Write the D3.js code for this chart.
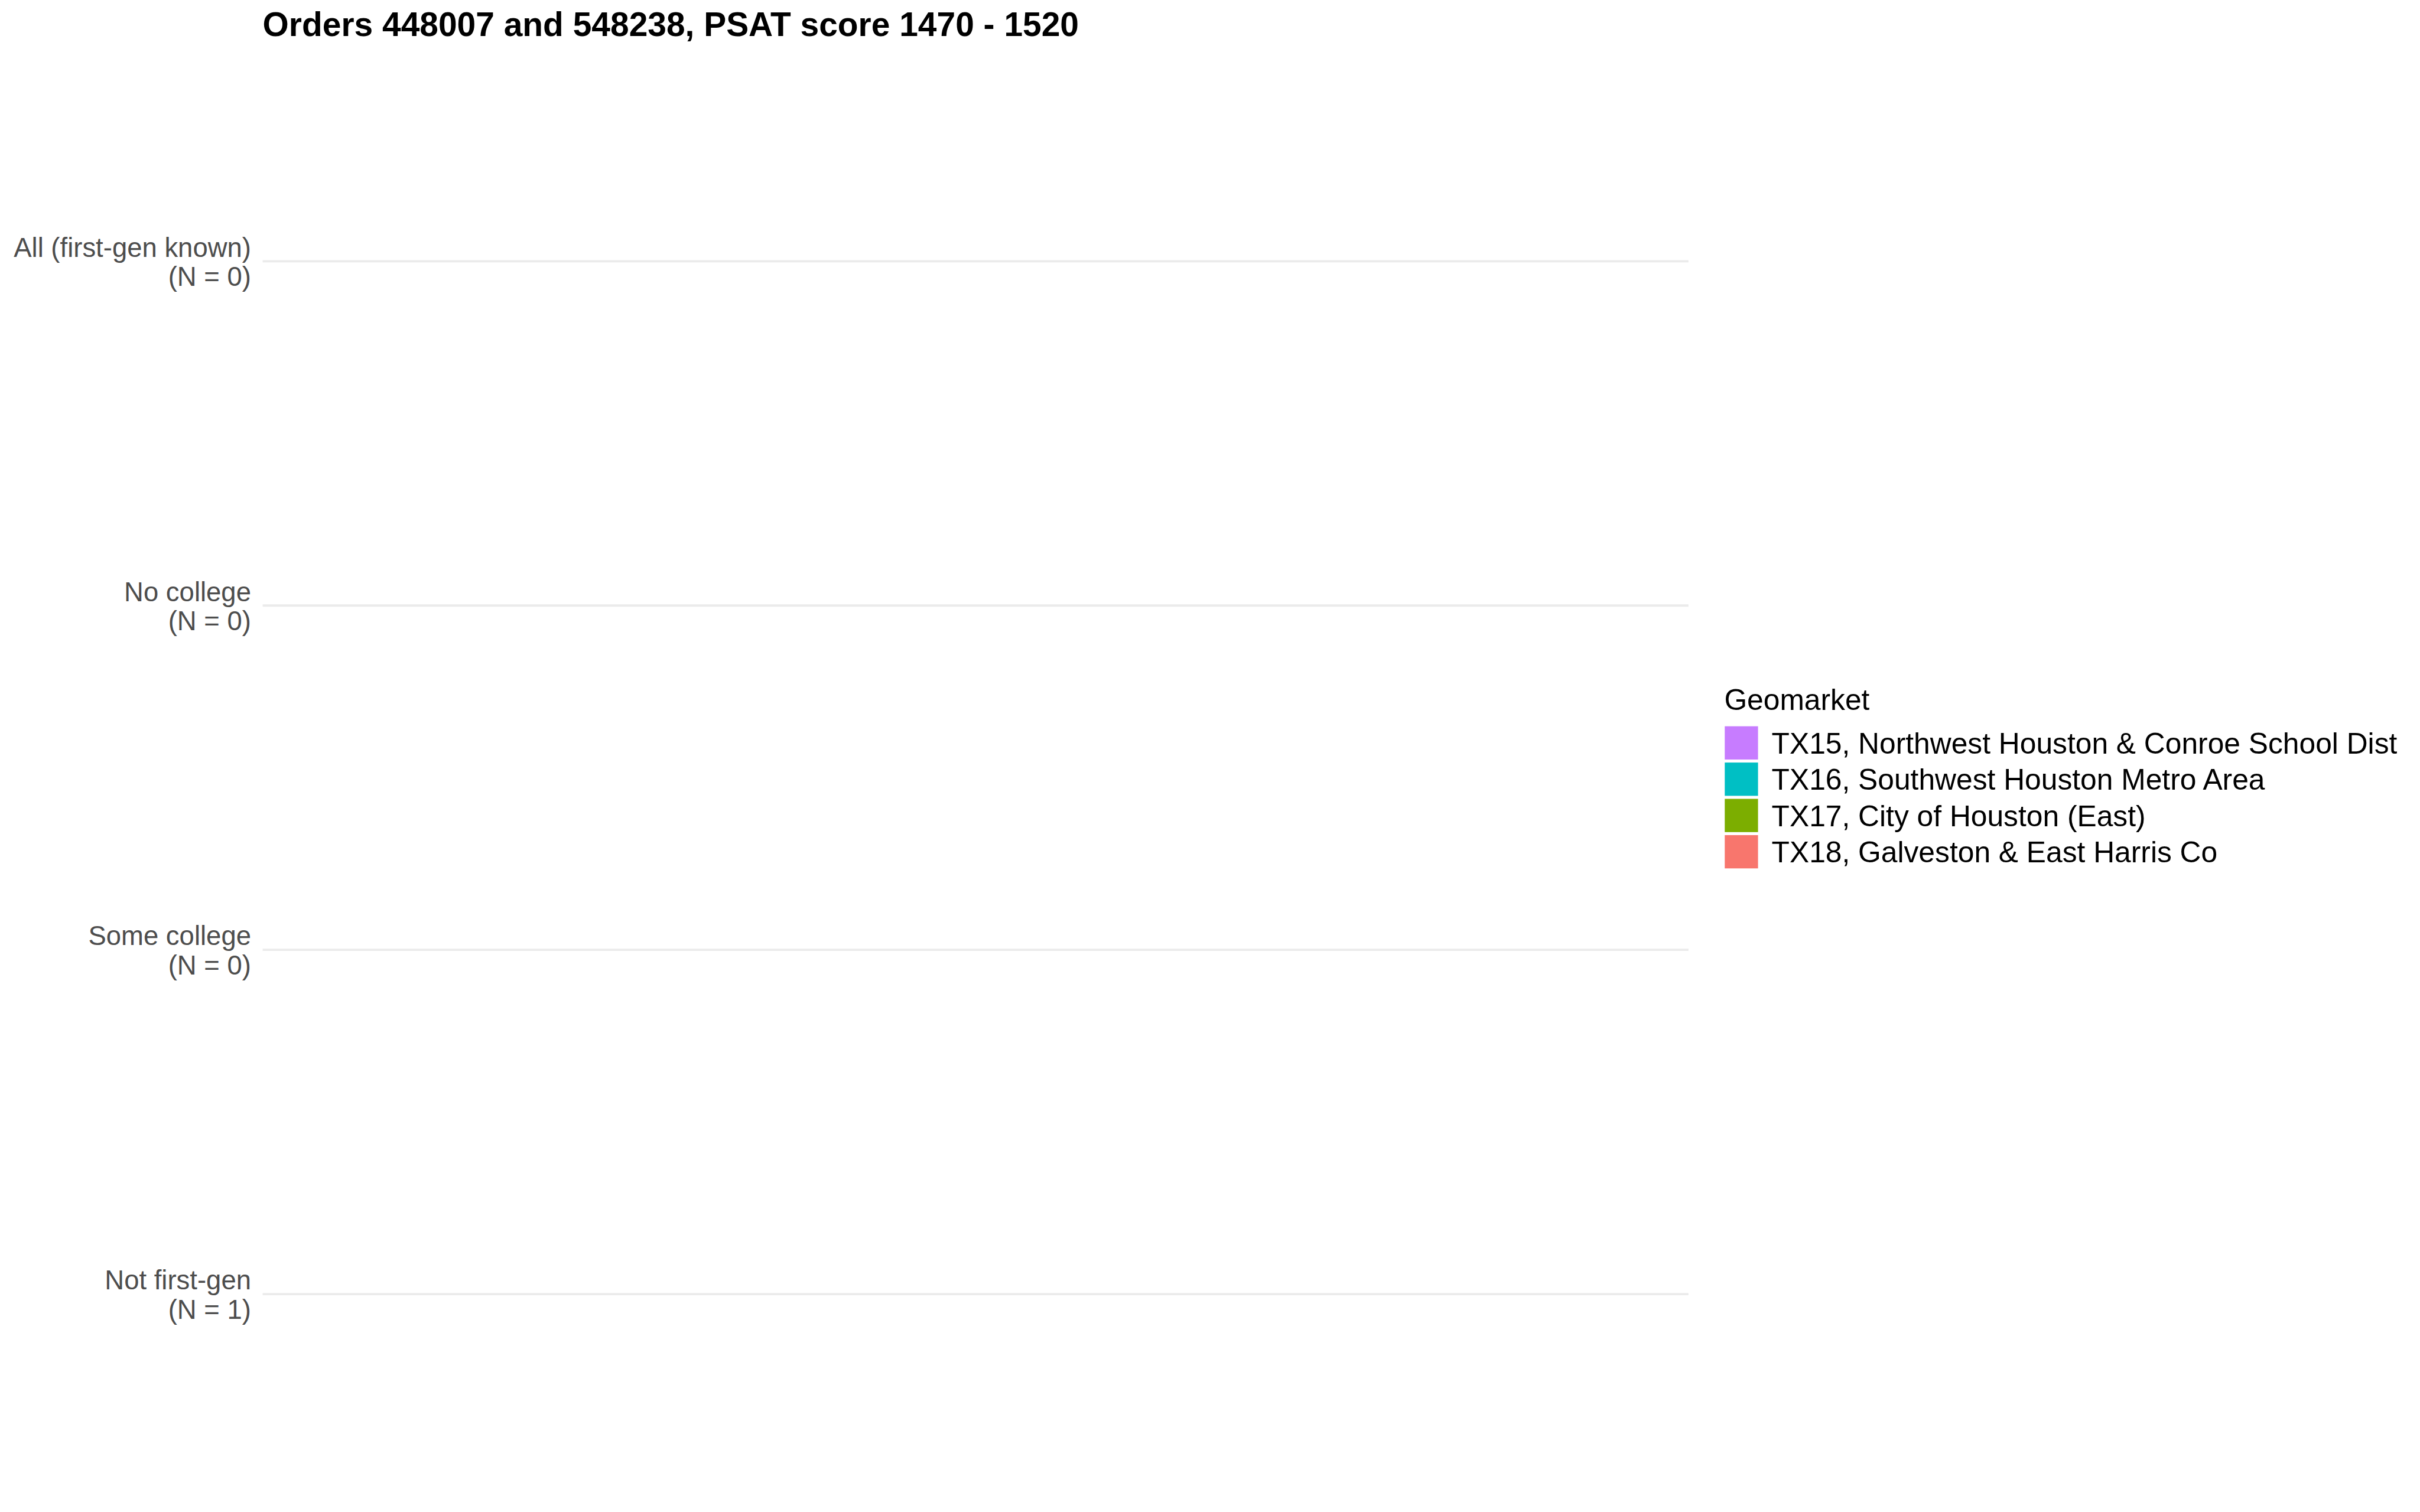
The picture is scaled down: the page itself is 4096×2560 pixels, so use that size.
<!DOCTYPE html>
<html>
<head>
<meta charset="utf-8">
<script src="https://cdn.jsdelivr.net/npm/d3@7"></script>
<style>
  html, body { margin: 0; padding: 0; background: #ffffff; }
  svg { display: block; }
  text { font-family: "Liberation Sans", Arial, Helvetica, sans-serif; }
</style>
</head>
<body>
<script>
// ---- data ----
const chartTitle = "Orders 448007 and 548238, PSAT score 1470 - 1520";
const categories = ["All (first-gen known)", "No college", "Some college", "Not first-gen"];
const categoryN = [0, 0, 0, 1];
const geomarkets = [
  "TX15, Northwest Houston & Conroe School Dist",
  "TX16, Southwest Houston Metro Area",
  "TX17, City of Houston (East)",
  "TX18, Galveston & East Harris Co"
];
const geomarketColors = ["#C77CFF", "#00BFC4", "#7CAE00", "#F8766D"];
const legendTitle = "Geomarket";

// ---- layout (reference pixel space 4800x3000, scaled to window) ----
const W = 4096, H = 2560, REF_W = 4800;
const k = W / REF_W;

const svg = d3.select("body").append("svg")
  .attr("width", W).attr("height", H)
  .attr("viewBox", `0 0 ${W} ${H}`);
svg.append("rect").attr("width", W).attr("height", H).attr("fill", "#ffffff");

const g = svg.append("g").attr("transform", `scale(${k})`);

const panel = { left: 521, right: 3349, top: 108, bottom: 2977 };

const x = d3.scaleLinear().domain([0, 1]).range([panel.left, panel.right]);
const y = d3.scalePoint()
  .domain(categories)
  .range([panel.top, panel.bottom])
  .padding(0.6);

// gridlines + y axis labels via d3 axis
const yAxis = d3.axisLeft(y)
  .tickSizeInner(-(x.range()[1] - x.range()[0]))
  .tickSizeOuter(0)
  .tickPadding(23)
  .tickFormat(() => "");

const axG = g.append("g")
  .attr("transform", `translate(${panel.left},0)`)
  .call(yAxis);
axG.select(".domain").remove();
axG.selectAll(".tick line")
  .attr("stroke", "#EBEBEB")
  .attr("stroke-width", 4.5);

axG.selectAll(".tick").each(function(d) {
  const t = d3.select(this).select("text")
    .attr("x", -23)
    .attr("dy", null)
    .attr("text-anchor", "end")
    .attr("fill", "#4D4D4D")
    .style("font-size", "53.3px")
    .text(null);
  t.append("tspan").attr("x", -23).attr("y", -9).text(d);
  t.append("tspan").attr("x", -23).attr("y", 49)
    .text(`(N = ${categoryN[categories.indexOf(d)]})`);
});

// title
g.append("text")
  .attr("x", panel.left)
  .attr("y", 71)
  .attr("fill", "#000000")
  .style("font-size", "66.7px")
  .style("font-weight", "bold")
  .text(chartTitle);

// legend
const color = d3.scaleOrdinal().domain(geomarkets).range(geomarketColors);
const legend = g.append("g").attr("transform", "translate(3420,0)");
legend.append("text")
  .attr("x", 0).attr("y", 1409)
  .attr("fill", "#000000")
  .style("font-size", "58.3px")
  .text(legendTitle);

const keyY = d3.scaleBand().domain(geomarkets).range([1438, 1438 + 72 * geomarkets.length]).padding(0);
const item = legend.selectAll("g.item").data(geomarkets).join("g").attr("class", "item");
item.append("rect")
  .attr("x", 1)
  .attr("y", d => keyY(d) + 3)
  .attr("width", 66)
  .attr("height", 66)
  .attr("fill", d => color(d));
item.append("text")
  .attr("x", 94)
  .attr("y", d => keyY(d) + keyY.bandwidth() / 2 + 21)
  .attr("fill", "#000000")
  .style("font-size", "58.3px")
  .text(d => d);
</script>
</body>
</html>
